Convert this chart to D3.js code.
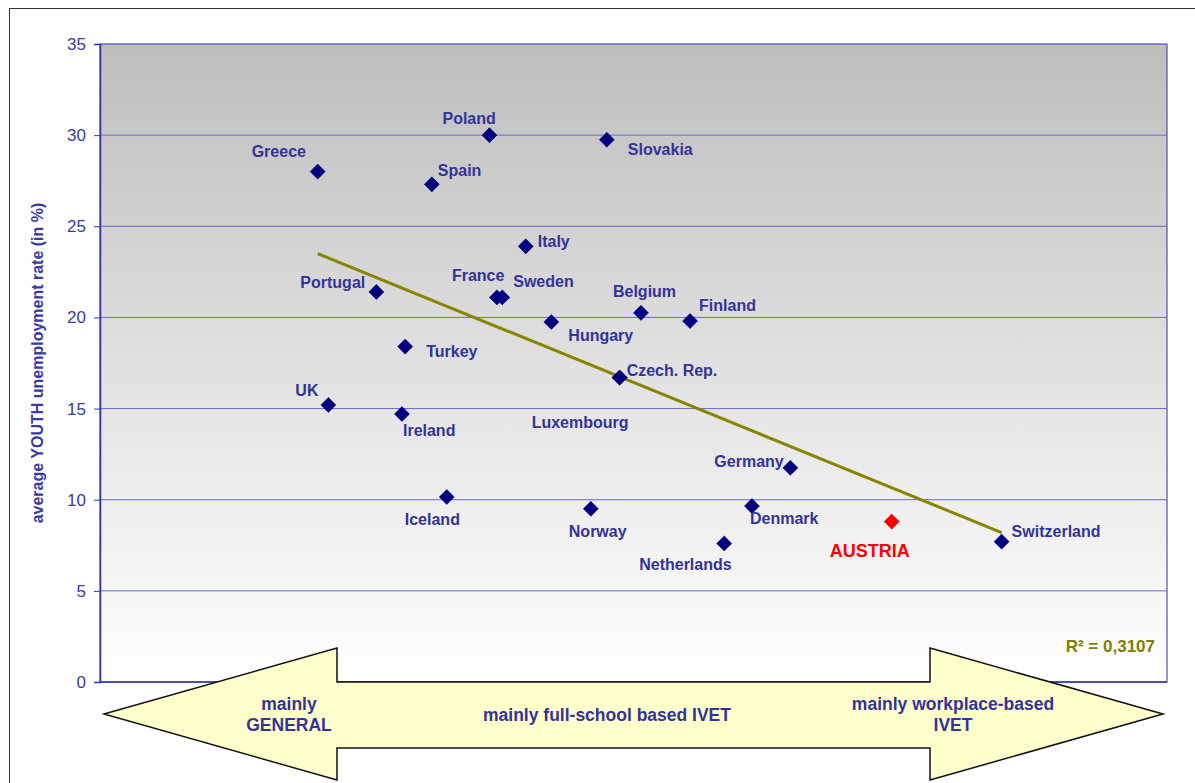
<!DOCTYPE html>
<html>
<head>
<meta charset="utf-8">
<script src="https://cdn.jsdelivr.net/npm/d3@7"></script>
<style>
  body { margin: 0; background: #fff; }
  svg { display: block; font-family: Arial, "Liberation Sans", sans-serif; }
</style>
</head>
<body>
<div id="chart"></div>
<script>
// countries and their values (x = position on the general -> workplace IVET scale, 0..100)
var countries = ["Greece", "Poland", "Slovakia", "Spain", "Italy", "Portugal", "France", "Sweden",
  "Hungary", "Belgium", "Finland", "Turkey", "Czech. Rep.", "Luxembourg", "UK", "Ireland",
  "Germany", "Denmark", "Iceland", "Norway", "Netherlands", "AUSTRIA", "Switzerland"];
var ivetShare = [20.4, 36.5, 47.5, 31.1, 39.9, 25.9, 37.2, 37.7,
  42.3, 50.7, 55.3, 28.6, 48.7, 48.7, 21.4, 28.3,
  64.7, 61.1, 32.5, 46.0, 58.5, 74.2, 84.5];
var youthUnemployment = [28.0, 30.0, 29.75, 27.3, 23.9, 21.4, 21.1, 21.1,
  19.75, 20.25, 19.8, 18.4, 16.7, 16.7, 15.2, 14.7,
  11.75, 9.65, 10.15, 9.5, 7.6, 8.8, 7.7];
var yTicks = [0, 5, 10, 15, 20, 25, 30, 35];
// linear trend
var trendSlope = -0.2387, trendIntercept = 28.37;
var rSquaredLabel = "R\u00b2 = 0,3107";

// label offsets (text start x, baseline y) relative to each marker
var labelOffset = {
  "Greece": [-66, -15], "Poland": [-47, -11], "Slovakia": [21, 15], "Spain": [6, -8],
  "Italy": [12, 1], "Portugal": [-76, -4], "France": [-45, -16], "Sweden": [11, -10],
  "Hungary": [17, 19], "Belgium": [-28, -16], "Finland": [9, -10], "Turkey": [21, 10],
  "Czech. Rep.": [7, -2], "Luxembourg": [-88, 50], "UK": [-33, -9], "Ireland": [1, 22],
  "Germany": [-76, -1], "Denmark": [-2, 18], "Iceland": [-42, 28], "Norway": [-22, 28],
  "Netherlands": [-85, 27], "AUSTRIA": [-62, 35], "Switzerland": [10, -5]
};

var data = countries.map(function(c, i) {
  return { name: c, x: ivetShare[i], y: youthUnemployment[i] };
});

var W = 1195, H = 783;
var margin = { left: 100, top: 44, right: 28, bottom: 101 };
var plotW = W - margin.left - margin.right;
var plotH = H - margin.top - margin.bottom;

var svg = d3.select("#chart").append("svg")
  .attr("width", W)
  .attr("height", H);

// outer frame
svg.append("rect")
  .attr("x", 9.5).attr("y", 8.5)
  .attr("width", W).attr("height", H)
  .attr("fill", "none")
  .attr("stroke", "#333")
  .attr("stroke-width", 1);

var defs = svg.append("defs");
var grad = defs.append("linearGradient")
  .attr("id", "bg").attr("x1", 0).attr("y1", 0).attr("x2", 0).attr("y2", 1);
grad.append("stop").attr("offset", "0%").attr("stop-color", "#bdbdbd");
grad.append("stop").attr("offset", "55%").attr("stop-color", "#e4e4e4");
grad.append("stop").attr("offset", "100%").attr("stop-color", "#ffffff");

var x = d3.scaleLinear().domain([0, 100]).range([0, plotW]);
var y = d3.scaleLinear().domain([0, 35]).range([plotH, 0]);

var g = svg.append("g")
  .attr("transform", "translate(" + margin.left + "," + margin.top + ")");

g.append("rect")
  .attr("width", plotW).attr("height", plotH)
  .attr("fill", "url(#bg)")
  .attr("stroke", "#5050b0")
  .attr("stroke-width", 1.2);

// gridlines
g.selectAll("line.grid")
  .data(yTicks.filter(function(t) { return t > 0 && t < 35; }))
  .enter().append("line")
  .attr("class", "grid")
  .attr("x1", 0).attr("x2", plotW)
  .attr("y1", function(d) { return y(d); })
  .attr("y2", function(d) { return y(d); })
  .attr("stroke", "#6a6ac8")
  .attr("stroke-width", 1);

// y axis
var yAxis = g.append("g")
  .call(d3.axisLeft(y).tickValues(yTicks).tickSize(6).tickPadding(8));
yAxis.select(".domain").attr("stroke", "#3333aa").attr("stroke-width", 1.5);
yAxis.selectAll(".tick line").attr("stroke", "#3333aa");
yAxis.selectAll(".tick text")
  .attr("fill", "#3a3aa0")
  .style("font-size", "17px");

g.append("line")
  .attr("x1", 0).attr("x2", plotW)
  .attr("y1", plotH).attr("y2", plotH)
  .attr("stroke", "#3333aa").attr("stroke-width", 1.5);

svg.append("text")
  .attr("transform", "translate(43," + (margin.top + plotH / 2) + ") rotate(-90)")
  .attr("text-anchor", "middle")
  .attr("fill", "#3a3aa0")
  .style("font-size", "16px")
  .style("font-weight", "bold")
  .text("average YOUTH unemployment rate (in %)");

// trend line
var xExt = d3.extent(data, function(d) { return d.x; });
g.append("line")
  .attr("x1", x(xExt[0])).attr("y1", y(trendIntercept + trendSlope * xExt[0]))
  .attr("x2", x(xExt[1])).attr("y2", y(trendIntercept + trendSlope * xExt[1]))
  .attr("stroke", "#858500")
  .attr("stroke-width", 3);

// markers
var diamond = d3.symbol().type(d3.symbolDiamond2).size(145);
g.selectAll("path.pt")
  .data(data)
  .enter().append("path")
  .attr("class", "pt")
  .attr("d", diamond)
  .attr("transform", function(d) { return "translate(" + x(d.x) + "," + y(d.y) + ")"; })
  .attr("fill", function(d) { return d.name === "AUSTRIA" ? "#ff0000" : "#000080"; })
  .attr("stroke", function(d) { return d.name === "AUSTRIA" ? "#aa0000" : "#000060"; })
  .attr("stroke-width", 0.5);

// labels
g.selectAll("text.lbl")
  .data(data)
  .enter().append("text")
  .attr("class", "lbl")
  .attr("x", function(d) { return x(d.x) + labelOffset[d.name][0]; })
  .attr("y", function(d) { return y(d.y) + labelOffset[d.name][1]; })
  .attr("fill", function(d) { return d.name === "AUSTRIA" ? "#ff0000" : "#333399"; })
  .style("font-size", function(d) { return d.name === "AUSTRIA" ? "18px" : "16px"; })
  .style("font-weight", "bold")
  .text(function(d) { return d.name; });

g.append("text")
  .attr("x", plotW - 12).attr("y", plotH - 30)
  .attr("text-anchor", "end")
  .attr("fill", "#808000")
  .style("font-size", "17px")
  .style("font-weight", "bold")
  .text(rSquaredLabel);

// double arrow below the plot
var ay = margin.top + plotH + 32;
var arrowPts = [
  [104, ay], [337, ay - 66], [337, ay - 32], [930, ay - 32], [930, ay - 66],
  [1163, ay], [930, ay + 66], [930, ay + 34], [337, ay + 34], [337, ay + 66]
];
svg.append("path")
  .attr("d", d3.line()(arrowPts) + "Z")
  .attr("fill", "#ffffcc")
  .attr("stroke", "#111")
  .attr("stroke-width", 1.5);

var arrowText = [
  { lines: ["mainly", "GENERAL"], cx: 289 },
  { lines: ["mainly full-school based IVET"], cx: 607 },
  { lines: ["mainly workplace-based", "IVET"], cx: 953 }
];
arrowText.forEach(function(t) {
  var txt = svg.append("text")
    .attr("text-anchor", "middle")
    .attr("fill", "#333399")
    .style("font-size", "17.5px")
    .style("font-weight", "bold");
  var y0 = t.lines.length === 1 ? ay + 7 : ay - 4;
  t.lines.forEach(function(l, i) {
    txt.append("tspan").attr("x", t.cx).attr("y", y0 + i * 21).text(l);
  });
});
</script>
</body>
</html>
